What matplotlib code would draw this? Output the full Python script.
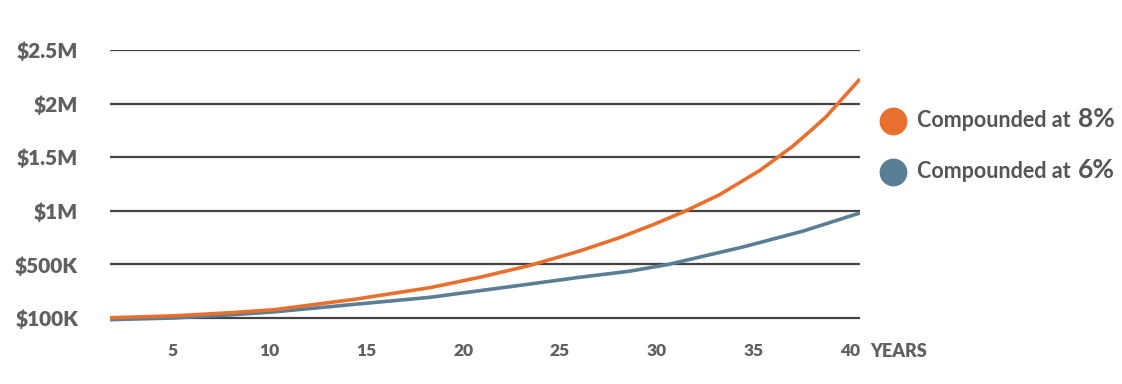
import matplotlib.pyplot as plt

# values, in millions of dollars
years_8 = [1.75, 5, 8, 10.2, 14.4, 18.27, 20.85, 23.43, 26.01, 28.08, 29.8, 31.44, 33.24, 35.31,
           36.25, 37.03, 37.89, 38.75, 39.35, 40.5]
value_8 = [0.003, 0.02, 0.05, 0.077, 0.175, 0.283, 0.38, 0.49, 0.625, 0.75, 0.87, 0.995, 1.15, 1.375,
           1.499, 1.604, 1.738, 1.878, 1.999, 2.23]

years_6 = [1.75, 5, 8, 10.2, 14.4, 18.27, 20.85, 23.43, 26.01, 28.6, 30.6, 34.5, 37.54, 40.5]
value_6 = [-0.015, 0.0, 0.03, 0.057, 0.128, 0.193, 0.255, 0.317, 0.38, 0.437, 0.5, 0.665, 0.81, 0.98]

y_ticks = [0, 0.5, 1.0, 1.5, 2.0, 2.5]
y_labels = ['$100K', '$500K', '$1M', '$1.5M', '$2M', '$2.5M']
x_ticks = [5, 10, 15, 20, 25, 30, 35, 40]

orange = '#e8702f'
blue = '#5a7f95'
grey = '#606060'

W, H = 1122, 384
fig = plt.figure(figsize=(W / 100, H / 100), dpi=100)
ax = fig.add_axes([110 / W, 1 - 323.4 / H, 750 / W, (323.4 - 50) / H])

for v in y_ticks:
    ax.axhline(v, color='#444444', lw=1.6, zorder=1)

ax.plot(years_6, value_6, color=blue, lw=2.6, zorder=3, solid_capstyle='butt', solid_joinstyle='round')
ax.plot(years_8, value_8, color=orange, lw=2.6, zorder=4, solid_capstyle='butt', solid_joinstyle='round')

ax.set_xlim(1.75, 40.5)
ax.set_ylim(-0.05, 2.5)
for s in ax.spines.values():
    s.set_visible(False)

ax.set_yticks(y_ticks)
ax.set_yticklabels(y_labels, fontfamily='Lato', fontweight='heavy', fontsize=15, color=grey)
ax.set_xticks(x_ticks)
ax.set_xticklabels([str(t) for t in x_ticks], fontfamily='Lato', fontweight='heavy', fontsize=12.5, color=grey)
ax.tick_params(axis='y', length=0, pad=23)
ax.tick_params(axis='x', length=0, pad=14)

fig.text(870 / W, 1 - 357 / H, 'YEARS', fontfamily='Lato', fontweight='heavy', fontsize=13,
         color=grey, ha='left', va='baseline')

# legend
for cy, col, rate in [(120.7, orange, '8%'), (171.7, blue, '6%')]:
    fig.lines.append(plt.Line2D([893 / W], [1 - cy / H], marker='o', markersize=19, color=col,
                                linestyle='none', transform=fig.transFigure))
    fig.text(917 / W, 1 - (cy + 6.5) / H, 'Compounded at', fontfamily='Lato', fontweight='bold',
             fontsize=15.5, color='#555555', ha='left', va='baseline')
    fig.text(1078 / W, 1 - (cy + 6.5) / H, rate, fontfamily='Lato', fontweight='bold',
             fontsize=19, color='#555555', ha='left', va='baseline')

fig.savefig('out.png', dpi=100)
